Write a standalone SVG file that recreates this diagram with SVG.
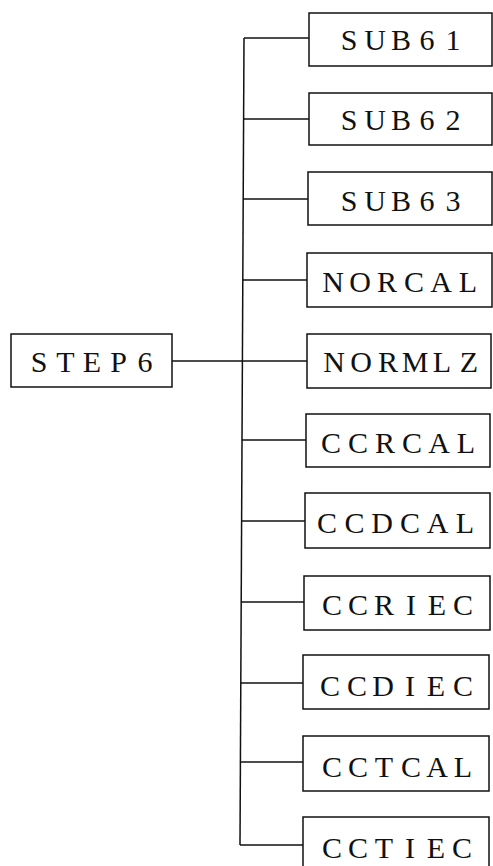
<svg xmlns="http://www.w3.org/2000/svg" width="493" height="866" viewBox="0 0 493 866">
  <style>
    .box { fill: #fff; stroke: #111; stroke-width: 1.5; }
    .wire { fill: none; stroke: #111; stroke-width: 1.5; }
    .lbl { font-family: "Liberation Serif", "DejaVu Serif", serif; font-size: 30px; fill: #111; text-anchor: middle; }
  </style>

  <rect width="493" height="866" fill="#fff"/>

  <!-- connectors: trunk, root feeder and one branch per child -->
  <g id="connectors" class="wire">
    <line x1="244" y1="38" x2="240" y2="845"/>
    <line x1="172" y1="361" x2="242" y2="361"/>
    <line x1="244" y1="38" x2="309" y2="38"/>
    <line x1="243.5" y1="119" x2="309" y2="119"/>
    <line x1="243" y1="199" x2="308" y2="199"/>
    <line x1="242.6" y1="280" x2="307" y2="280"/>
    <line x1="242" y1="361" x2="307" y2="361"/>
    <line x1="241.8" y1="440" x2="306" y2="440"/>
    <line x1="241.4" y1="521" x2="305" y2="521"/>
    <line x1="241" y1="602" x2="304" y2="602"/>
    <line x1="240.6" y1="683" x2="303" y2="683"/>
    <line x1="240.3" y1="762" x2="303" y2="762"/>
    <line x1="240" y1="845" x2="303" y2="845"/>
  </g>

  <g id="step6">
    <rect class="box" x="11" y="334" width="161" height="53"/>
    <text class="lbl" x="39 65.5 92 118.5 145" y="372">STEP6</text>
  </g>

  <g id="sub61">
    <rect class="box" x="309" y="13" width="183" height="53"/>
    <text class="lbl" x="349 375 401 427 453" y="49.5">SUB61</text>
  </g>

  <g id="sub62">
    <rect class="box" x="309" y="93" width="183" height="52"/>
    <text class="lbl" x="349 375 401 427 453" y="129.5">SUB62</text>
  </g>

  <g id="sub63">
    <rect class="box" x="308" y="172" width="184" height="53"/>
    <text class="lbl" x="349 375 401 427 453" y="210.5">SUB63</text>
  </g>

  <g id="norcal">
    <rect class="box" x="307" y="253" width="185" height="54"/>
    <text class="lbl" x="333 360 387 414 441 468" y="291.5">NORCAL</text>
  </g>

  <g id="normlz">
    <rect class="box" x="307" y="334" width="184" height="54"/>
    <text class="lbl" x="334 361 388 415 442 469" y="372">NORMLZ</text>
  </g>

  <g id="ccrcal">
    <rect class="box" x="306" y="414" width="184" height="53"/>
    <text class="lbl" x="331 358 385 412 439 466" y="452.5">CCRCAL</text>
  </g>

  <g id="ccdcal">
    <rect class="box" x="305" y="493" width="185" height="55"/>
    <text class="lbl" x="327 354.6 382 410 437.5 465" y="533">CCDCAL</text>
  </g>

  <g id="ccriec">
    <rect class="box" x="304" y="576" width="186" height="54"/>
    <text class="lbl" x="332 358 384 411 437 463" y="615">CCRIEC</text>
  </g>

  <g id="ccdiec">
    <rect class="box" x="303" y="655" width="186" height="54"/>
    <text class="lbl" x="330 357 383 410 436 463" y="696">CCDIEC</text>
  </g>

  <g id="cctcal">
    <rect class="box" x="303" y="736" width="186" height="55"/>
    <text class="lbl" x="332 358 384 411 437 463" y="777">CCTCAL</text>
  </g>

  <g id="cctiec">
    <rect class="box" x="303" y="817" width="186" height="60"/>
    <text class="lbl" x="332 358 384 410 436 462" y="858">CCTIEC</text>
  </g>
</svg>
